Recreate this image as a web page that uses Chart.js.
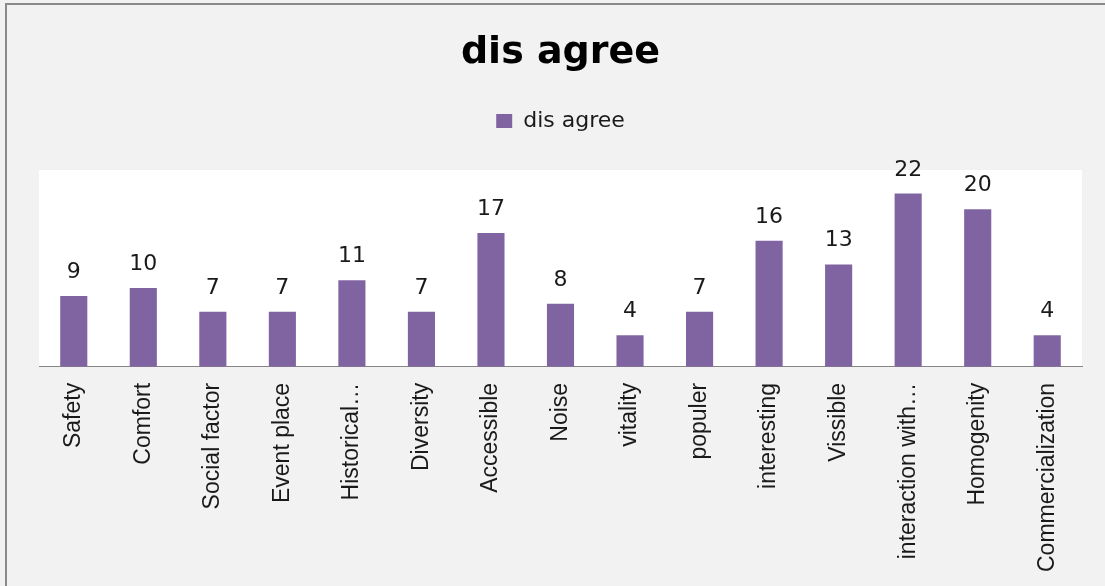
<!DOCTYPE html>
<html>
<head>
<meta charset="utf-8">
<script src="https://cdn.jsdelivr.net/npm/chart.js@4/dist/chart.umd.min.js"></script>
<style>
  html, body { margin: 0; padding: 0; background: #f2f2f2; overflow: hidden; }
  canvas { display: block; }
</style>
</head>
<body>
<canvas id="chart" width="1105" height="586"></canvas>
<script>
// Survey responses marked "dis agree", one bar per attribute
const categories = [
  "Safety", "Comfort", "Social factor", "Event place", "Historical…",
  "Diversity", "Accessible", "Noise", "vitality", "populer",
  "interesting", "Vissible", "interaction with…", "Homogenity", "Commercialization"
];
const disAgree = [9, 10, 7, 7, 11, 7, 17, 8, 4, 7, 16, 13, 22, 20, 4];
const seriesName = "dis agree";
const yRange = [0, 25];

// Grey page, white plot area and the thin frame around the figure
const framePlugin = {
  id: 'frame',
  beforeDraw(chart) {
    const { ctx, chartArea: a } = chart;
    ctx.save();
    ctx.fillStyle = '#f2f2f2';
    ctx.fillRect(0, 0, chart.width, chart.height);
    ctx.fillStyle = '#ffffff';
    ctx.fillRect(a.left, a.top, a.right - a.left, a.bottom - a.top);
    ctx.strokeStyle = '#8a8a8a';
    ctx.lineWidth = 2;
    ctx.strokeRect(6, 4, chart.width + 20, chart.height + 20);
    ctx.restore();
  }
};

// Extra room between the legend and the plot area
const legendGapPlugin = {
  id: 'legendGap',
  beforeInit(chart) {
    const legend = chart.legend;
    const fit = legend.fit;
    legend.fit = function () {
      fit.call(this);
      this.height += 28;
    };
  }
};

// Value printed above each bar
const valueLabelPlugin = {
  id: 'valueLabels',
  afterDatasetsDraw(chart) {
    const ctx = chart.ctx;
    const meta = chart.getDatasetMeta(0);
    const values = chart.data.datasets[0].data;
    ctx.save();
    ctx.font = '22px "DejaVu Sans"';
    ctx.fillStyle = '#1a1a1a';
    ctx.textAlign = 'center';
    ctx.textBaseline = 'alphabetic';
    meta.data.forEach((bar, i) => {
      ctx.fillText(String(values[i]), bar.x, bar.y - 18);
    });
    ctx.restore();
  }
};

new Chart(document.getElementById('chart'), {
  type: 'bar',
  data: {
    labels: categories,
    datasets: [{
      label: seriesName,
      data: disAgree,
      backgroundColor: '#8064a2',
      borderWidth: 0,
      barPercentage: 0.39,
      categoryPercentage: 1
    }]
  },
  options: {
    responsive: false,
    animation: false,
    devicePixelRatio: 1,
    layout: { padding: { left: 39, right: 23, top: 0, bottom: -2 } },
    plugins: {
      title: {
        display: true,
        text: seriesName,
        color: '#000000',
        font: { family: '"DejaVu Sans"', size: 38, weight: 'bold', lineHeight: 1 },
        padding: { top: 34, bottom: 0 }
      },
      legend: {
        display: true,
        position: 'top',
        labels: {
          color: '#1a1a1a',
          font: { family: '"DejaVu Sans"', size: 22 },
          boxWidth: 16,
          boxHeight: 14,
          padding: 38
        }
      },
      tooltip: { enabled: false }
    },
    scales: {
      x: {
        grid: { display: false, drawTicks: false },
        border: { display: true, color: '#868686', width: 1 },
        ticks: {
          color: '#1a1a1a',
          font: { family: '"Liberation Sans"', size: 23 },
          minRotation: 90,
          maxRotation: 90,
          padding: 16,
          autoSkip: false
        }
      },
      y: { display: false, min: yRange[0], max: yRange[1] }
    }
  },
  plugins: [framePlugin, legendGapPlugin, valueLabelPlugin]
});
</script>
</body>
</html>
